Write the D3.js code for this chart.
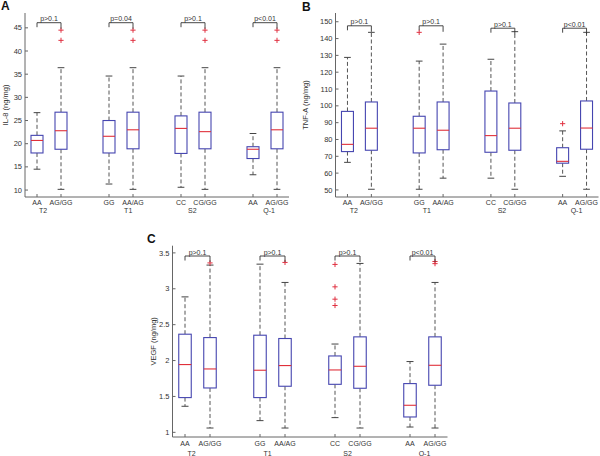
<!DOCTYPE html>
<html>
<head>
<meta charset="utf-8">
<script src="https://cdn.jsdelivr.net/npm/d3@7"></script>
<style>
html,body{margin:0;padding:0;background:#fff;}
svg{display:block;font-family:"Liberation Sans",Arial,sans-serif;}
</style>
</head>
<body>
<svg id="chart" width="600" height="456"></svg>
<script>
// ---- categories ----
const genotypes = ["AA","AG/GG","GG","AA/AG","CC","CG/GG","AA","AG/GG"];
const positions = [1,2,4,5,7,8,10,11];
const snps = ["T2","T1","S2","Q-1"];

// ---- Panel A: IL-8 (ng/mg) ----
const ilLower  = [14.5, 10.15, 11.3, 10.15, 10.6, 10.15, 13.3, 10.15];
const ilQ1     = [18.0, 18.8, 18.0, 18.9, 17.9, 18.9, 16.8, 18.9];
const ilMedian = [20.7, 22.8, 21.6, 23.0, 23.3, 22.6, 18.8, 23.0];
const ilQ3     = [21.8, 26.8, 25.0, 26.8, 26.0, 26.8, 19.35, 26.8];
const ilUpper  = [26.7, 36.4, 34.6, 36.4, 34.6, 36.4, 22.2, 36.4];
const ilOutliers = [[], [44.5, 42.3], [], [44.5, 42.3], [], [44.5, 42.3], [], [44.5, 42.3]];
const ilTicks = [10,15,20,25,30,35,40,45];
const ilP = ["p>0.1","p=0.04","p>0.1","p<0.01"];

// ---- Panel B: TNF-A (ng/mg) ----
const tnfLower  = [66.4, 50.4, 50.4, 57.0, 57.0, 50.4, 58.1, 50.4];
const tnfQ1     = [72.8, 73.6, 72.0, 73.9, 72.4, 73.6, 65.9, 74.2];
const tnfMedian = [77.1, 86.7, 86.7, 85.5, 82.3, 86.7, 67.0, 86.8];
const tnfQ3     = [96.7, 102.3, 93.8, 102.3, 108.8, 101.7, 75.1, 102.9];
const tnfUpper  = [128.8, 143.7, 126.6, 136.7, 127.7, 144.1, 85.1, 143.7];
const tnfOutliers = [[], [], [143.7], [], [], [], [89.4], []];
const tnfTicks = [50,60,70,80,90,100,110,120,130,140,150];
const tnfP = ["p>0.1","p>0.1","p>0.1","p<0.01"];

// ---- Panel C: VEGF (ng/mg) ----
const vegfLower  = [1.363, 1.06, 1.163, 1.06, 1.205, 1.06, 1.074, 1.06];
const vegfQ1     = [1.484, 1.618, 1.484, 1.642, 1.669, 1.614, 1.214, 1.656];
const vegfMedian = [1.944, 1.883, 1.865, 1.93, 1.869, 1.92, 1.377, 1.934];
const vegfQ3     = [2.367, 2.32, 2.353, 2.307, 2.064, 2.33, 1.679, 2.33];
const vegfUpper  = [2.887, 3.33, 3.343, 3.088, 2.23, 3.353, 1.986, 3.088];
const vegfOutliers = [[], [3.36], [], [3.367], [3.339, 3.027, 2.855, 2.767], [], [], [3.35, 3.38]];
const vegfTicks = [1,1.5,2,2.5,3,3.5];
const vegfP = ["p>0.1","p>0.1","p>0.1","p<0.01"];

const svg = d3.select("#chart");
const BOX = "#4545b0", MED = "#e0303a", WHISK = "#555", OUT = "#e03040", AXIS = "#666", TXT = "#333";

function drawPanel(cfg){
  const g = svg.append("g");
  const x = d3.scaleLinear().domain([0.5, 11.5]).range(cfg.xr);
  const y = d3.scaleLinear().domain(cfg.yd).range(cfg.yr);
  const unit = x(2) - x(1);
  const fs = 7;

  // axes lines
  g.append("line").attr("x1", x(0.5)).attr("x2", x(0.5)).attr("y1", cfg.yr[0]).attr("y2", cfg.yr[1])
    .attr("stroke", AXIS).attr("stroke-width", 1);
  g.append("line").attr("x1", x(0.5)).attr("x2", x(11.5)).attr("y1", cfg.yr[0]).attr("y2", cfg.yr[0])
    .attr("stroke", AXIS).attr("stroke-width", 1);

  // y ticks
  cfg.ticks.forEach(t => {
    g.append("line").attr("x1", x(0.5)).attr("x2", x(0.5) + 3).attr("y1", y(t)).attr("y2", y(t))
      .attr("stroke", AXIS);
    g.append("text").attr("x", x(0.5) - 3).attr("y", y(t)).attr("dy", "0.35em")
      .attr("text-anchor", "end").attr("font-size", 7.5).attr("fill", TXT).text(d3.format("~g")(t));
  });
  // y label
  const ymid = (cfg.yr[0] + cfg.yr[1]) / 2;
  g.append("text").attr("transform", `translate(${cfg.ylabX},${ymid}) rotate(-90)`)
    .attr("text-anchor", "middle").attr("dy", "0.35em").attr("font-size", 7.5).attr("fill", TXT).text(cfg.ylabel);

  // x ticks + labels
  positions.forEach((p, i) => {
    g.append("line").attr("x1", x(p)).attr("x2", x(p)).attr("y1", cfg.yr[0]).attr("y2", cfg.yr[0] - 3)
      .attr("stroke", AXIS);
    g.append("text").attr("x", x(p)).attr("y", cfg.yr[0] + cfg.lab1).attr("text-anchor", "middle")
      .attr("font-size", fs).attr("fill", TXT).text(genotypes[i]);
  });
  snps.forEach((s, k) => {
    const c = (positions[2*k] + positions[2*k+1]) / 2 + cfg.gshift[k];
    g.append("text").attr("x", x(c)).attr("y", cfg.yr[0] + cfg.lab2).attr("text-anchor", "middle")
      .attr("font-size", fs).attr("fill", TXT).text(s);
  });

  // boxes
  positions.forEach((p, i) => {
    const cx = x(p), hw = unit * 0.25, cw = unit * 0.14;
    [[cfg.q3[i], cfg.up[i]], [cfg.q1[i], cfg.lo[i]]].forEach(([a, b]) => {
      g.append("line").attr("x1", cx).attr("x2", cx).attr("y1", y(a)).attr("y2", y(b))
        .attr("stroke", WHISK).attr("stroke-dasharray", "4,2.5").attr("stroke-width", 1);
      g.append("line").attr("x1", cx - cw).attr("x2", cx + cw).attr("y1", y(b)).attr("y2", y(b))
        .attr("stroke", "#444").attr("stroke-width", 1);
    });
    g.append("rect").attr("x", cx - hw).attr("width", 2*hw)
      .attr("y", y(cfg.q3[i])).attr("height", y(cfg.q1[i]) - y(cfg.q3[i]))
      .attr("fill", "#fff").attr("stroke", BOX).attr("stroke-width", 1.1);
    g.append("line").attr("x1", cx - hw).attr("x2", cx + hw).attr("y1", y(cfg.med[i])).attr("y2", y(cfg.med[i]))
      .attr("stroke", MED).attr("stroke-width", 1.1);
    cfg.out[i].forEach(o => {
      const oy = y(o), s = 2.6;
      g.append("path").attr("d", `M${cx - s},${oy}H${cx + s}M${cx},${oy - s}V${oy + s}`)
        .attr("stroke", OUT).attr("stroke-width", 1).attr("fill", "none");
    });
  });

  // significance brackets
  snps.forEach((s, k) => {
    const xa = x(positions[2*k]), xb = x(positions[2*k+1]), by = cfg.brY[k];
    g.append("path").attr("d", `M${xa},${by + 4.5}V${by}H${xb}V${by + 6}`)
      .attr("stroke", "#333").attr("fill", "none").attr("stroke-width", 0.9);
    g.append("text").attr("x", (xa + xb) / 2).attr("y", by - 1.5).attr("text-anchor", "middle")
      .attr("font-size", fs).attr("fill", TXT).text(cfg.p[k]);
  });

  // panel letter
  svg.append("text").attr("x", cfg.letter[0]).attr("y", cfg.letter[1]).attr("font-size", 12)
    .attr("font-weight", "bold").attr("fill", "#111").text(cfg.name);
}

drawPanel({name:"A", letter:[1,10], xr:[25,289], yd:[8.5,48.2], yr:[197,13], ticks:ilTicks, ylabel:"IL-8 (ng/mg)", ylabX:5,
  lo:ilLower, q1:ilQ1, med:ilMedian, q3:ilQ3, up:ilUpper, out:ilOutliers, p:ilP, brY:[22.7,22.7,22.7,22.7],
  lab1:8, lab2:16, gshift:[-0.25,0.3,-0.03,0.17]});
drawPanel({name:"B", letter:[302,11], xr:[335.5,598.5], yd:[45.8,155.2], yr:[197,13], ticks:tnfTicks, ylabel:"TNF-A (ng/mg)", ylabX:305,
  lo:tnfLower, q1:tnfQ1, med:tnfMedian, q3:tnfQ3, up:tnfUpper, out:tnfOutliers, p:tnfP, brY:[25.8,25.8,28.2,28.2],
  lab1:8, lab2:16, gshift:[-0.23,-0.18,-0.04,0.08]});
drawPanel({name:"C", letter:[147,243], xr:[172.5,447.5], yd:[0.935,3.6], yr:[437,245.7], ticks:vegfTicks, ylabel:"VEGF (ng/mg)", ylabX:153,
  lo:vegfLower, q1:vegfQ1, med:vegfMedian, q3:vegfQ3, up:vegfUpper, out:vegfOutliers, p:vegfP, brY:[256,256,256,256],
  lab1:8.5, lab2:18.5, gshift:[-0.24,-0.2,0,0.08]});
</script>
</body>
</html>
